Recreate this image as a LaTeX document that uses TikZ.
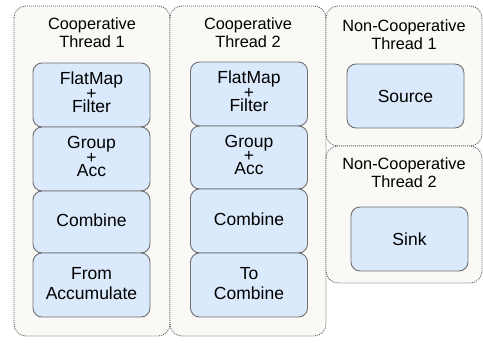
\documentclass[tikz,border=0pt]{standalone}
\usepackage{fontspec}
\setmainfont{Liberation Sans}
\definecolor{contfill}{HTML}{FBF9F6}
\definecolor{contline}{HTML}{5A5A5A}
\definecolor{boxfill}{HTML}{DAE9FB}
\definecolor{boxline}{HTML}{707070}
\begin{document}
\begin{tikzpicture}[x=1pt,y=-1pt,
  thread/.style={draw=contline, fill=contfill, line width=0.8pt, dash pattern=on 1pt off 1pt, rounded corners=12pt},
  title/.style={align=center, inner sep=0pt, font=\fontsize{16.3}{18}\selectfont},
  opbox/.style={draw=boxline, fill=boxfill, line width=0.9pt, rounded corners=9pt, align=center, inner sep=0pt,
    minimum width=117pt, minimum height=64pt, font=\fontsize{17.5}{19.4}\selectfont},
  tri/.style={font=\fontsize{17.5}{13}\selectfont}
]
\useasboundingbox (0,0) rectangle (483,343);
% containers
\path[thread] (14,6) rectangle (170,336);
\path[thread] (170,6) rectangle (326,336);
\path[thread] (326,6) rectangle (482,146);
\path[thread] (326,146) rectangle (482,283);
% titles
\node[title] (t1) at (92,33) {Cooperative\\Thread 1};
\node[title] (t2) at (248,33) {Cooperative\\Thread 2};
\node[title] (t3) at (404,34.5) {Non-Cooperative\\Thread 1};
\node[title] (t4) at (404,173) {Non-Cooperative\\Thread 2};
% column 1
\node[opbox,tri] (fm1) at (91.5,95) {FlatMap\\+\\Filter\rule[-5pt]{0pt}{5pt}};
\node[opbox,tri] (ga1) at (91.5,159) {Group\\+\\Acc\rule[-5pt]{0pt}{5pt}};
\node[opbox, minimum height=62pt] (cb1) at (91.5,222) {Combine\rule[-3pt]{0pt}{3pt}};
\node[opbox] (fa1) at (91.5,285) {From\\Accumulate\rule[-3pt]{0pt}{3pt}};
% column 2
\node[opbox,tri] (fm2) at (249,94) {FlatMap\\+\\Filter\rule[-5pt]{0pt}{5pt}};
\node[opbox,tri, minimum height=63pt] (ga2) at (249,157.5) {Group\\+\\Acc\rule[-5pt]{0pt}{5pt}};
\node[opbox] (cb2) at (249,221) {Combine\rule[-3pt]{0pt}{3pt}};
\node[opbox] (tc2) at (249,285) {To\\Combine\rule[-3pt]{0pt}{3pt}};
% non-cooperative
\node[opbox] (src) at (405.5,96) {Source};
\node[opbox] (snk) at (409.5,239) {Sink};
\end{tikzpicture}
\end{document}
